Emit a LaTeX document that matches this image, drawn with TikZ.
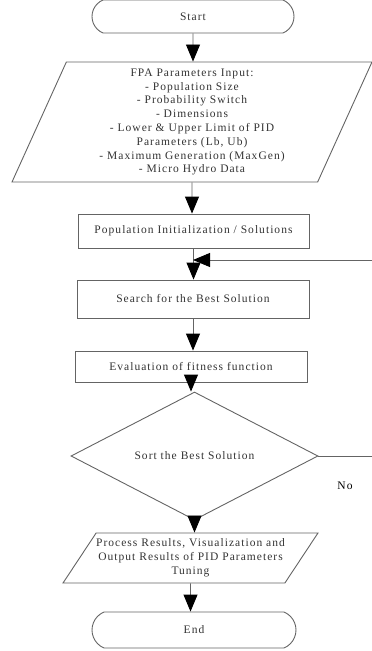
\documentclass[tikz,border=0pt]{standalone}
\usepackage{fontspec}
\setmainfont{Liberation Serif}[LetterSpace=9]
\usepackage{xcolor}
\usetikzlibrary{arrows.meta,shapes.geometric,shapes.misc}
\definecolor{linegray}{HTML}{646464}
\definecolor{textgray}{HTML}{333333}

\begin{document}
\begin{tikzpicture}[x=1pt,y=-1pt]
  \tikzset{every node/.style = {font=\fontsize{11.5}{13.8}\selectfont, text=textgray}}
  \tikzset{terminal/.style = {shape=rounded rectangle, rounded rectangle arc length=135, draw=linegray, line width=0.9pt, inner sep=0pt}}
  \tikzset{process/.style = {shape=rectangle, draw=linegray, line width=0.9pt, inner sep=0pt}}
  \tikzset{io/.style = {shape=trapezium, trapezium stretches body, draw=linegray, line width=0.9pt, inner sep=0pt, align=center}}
  \tikzset{decision/.style = {shape=diamond, draw=linegray, line width=0.9pt, inner sep=0pt}}
  \tikzset{edge/.style = {draw=linegray, line width=0.9pt}}
  \tikzset{%
  tipA/.tip={Triangle[length=17pt,width=14pt,black]},
}
  \useasboundingbox (0,0) rectangle (372,651);

	\node[terminal, minimum width=202pt, minimum height=33pt] (start) at (193,16.5) {Start};
	\node[io, trapezium left angle=63, trapezium right angle=117, minimum width=360pt, minimum height=120pt] (inp) at (192,122) {FPA Parameters Input:\\- Population Size\\- Probability Switch\\- Dimensions\\- Lower \& Upper Limit of PID\\Parameters (Lb, Ub)\\- Maximum Generation (MaxGen)\\- Micro Hydro Data};
	\node[process, minimum width=231pt, minimum height=34pt] (init) at (193.5,231) {Population Initialization / Solutions};
	\node[process, minimum width=232pt, minimum height=38pt] (search) at (193,299) {Search for the Best Solution};
	\node[process, minimum width=232pt, minimum height=31pt] (eval) at (191,366.5) {Evaluation of fitness function};
	\node[decision, minimum width=247pt, minimum height=92pt] (sort) at (194.5,456) {Sort the Best Solution};
	\node[io, trapezium left angle=49, trapezium right angle=131, minimum width=249pt, minimum height=50pt] (outp) at (190.5,558) {Process Results, Visualization and\\Output Results of PID Parameters\\Tuning};
	\node[terminal, minimum width=204pt, minimum height=36pt] (stop) at (194,630) {End};
	\node[text=black] (no) at (345,486) {No};
	\coordinate (join) at (193,260);

    \foreach \from/\to in {start/inp, inp/init, init/search, search/eval, eval/sort, sort/outp, outp/stop}
    \path[edge,-tipA](\from) edge (\from |- \to.north);

    \draw[edge,-tipA] (sort.east) -- ++(70,0) |- (join);

\end{tikzpicture}
\end{document}
